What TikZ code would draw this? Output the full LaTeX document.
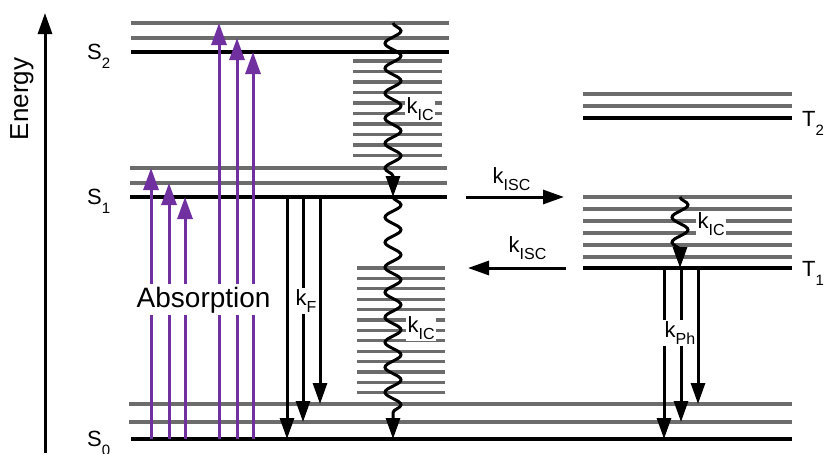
\documentclass[tikz,border=0pt]{standalone}
\usepackage{fontspec}
\setmainfont{Liberation Sans}
\definecolor{abspurple}{RGB}{112, 48, 160}
\definecolor{vibgray}{RGB}{108, 108, 108}
\usetikzlibrary{arrows.meta, positioning, calc, decorations.pathmorphing}
\newcommand{\ratesub}[1]{\raisebox{-7pt}{\fontsize{16}{18}\selectfont #1}}
\newcommand{\statesub}[1]{\raisebox{-9pt}{\fontsize{15}{17}\selectfont #1}}

\tikzset{
  groundlevel/.style={line width=3.2pt, black},
  viblevel/.style={line width=3.2pt, vibgray},
  absarrow/.style={line width=3pt, abspurple, -{Triangle[length=22pt, width=15pt]}},
  radarrow/.style={line width=3pt, black, -{Triangle[length=21pt, width=14pt]}},
  icarrow/.style={line width=3pt, black, -{Triangle[length=21pt, width=14pt]},
    decorate, decoration={snake, amplitude=8pt, segment length=25pt, post length=16pt}},
  ratelabel/.style={fill=white, inner sep=1.5pt, anchor=base west, font=\fontsize{22}{26}\selectfont},
  statelabel/.style={inner sep=0pt, anchor=base west, font=\fontsize{22}{26}\selectfont}
}

\begin{document}
\begin{tikzpicture}[x=1pt, y=-1pt]
  \useasboundingbox (0,0) rectangle (824,453);

  % energy axis
  \coordinate (ebot) at (45,453);
  \coordinate (etop) at (45,13);
  \draw[radarrow] (ebot) -- (etop);
  \node[rotate=90, font=\fontsize{26}{30}\selectfont] (energy) at (22,99) {Energy};

  % singlet levels
  \draw[groundlevel] (131,439) -- (792,439);
  \foreach \y in {422, 404} \draw[viblevel] (129,\y) -- (792,\y);
  \draw[groundlevel] (130,197) -- (447,197);
  \foreach \y in {183, 168} \draw[viblevel] (130,\y) -- (447,\y);
  \draw[groundlevel] (131,52) -- (449,52);
  \foreach \y in {38, 23} \draw[viblevel] (131,\y) -- (449,\y);

  % dense vibrational manifolds
  \foreach \i in {0,...,9} \draw[viblevel] (353,61+10.5*\i) -- (442,61+10.5*\i);
  \foreach \i in {0,...,12} \draw[viblevel] (357,268+10.4*\i) -- (445,268+10.4*\i);

  % triplet levels
  \draw[groundlevel] (583,118) -- (792,118);
  \foreach \y in {106, 94} \draw[viblevel] (583,\y) -- (792,\y);
  \draw[groundlevel] (583,268) -- (792,268);
  \foreach \y in {197, 209, 221, 233, 245, 257} \draw[viblevel] (583,\y) -- (792,\y);

  \node[statelabel] (s2lab) at (87,59) {S\statesub{2}};
  \node[statelabel] (s1lab) at (87,204) {S\statesub{1}};
  \node[statelabel] (s0lab) at (87,446) {S\statesub{0}};
  \node[statelabel] (t2lab) at (802,126) {T\statesub{2}};
  \node[statelabel] (t1lab) at (802,276) {T\statesub{1}};

  % absorption
  \foreach \x/\top [count=\i] in {151/168, 169/183, 185/197, 219/23, 237/38, 253/52} {
    \coordinate (absfrom\i) at (\x,439);
    \coordinate (absto\i) at (\x,\top);
    \draw[absarrow] (absfrom\i) -- (absto\i);
  }

  % fluorescence and phosphorescence
  \foreach \x/\bot [count=\i] in {287/439, 303/422, 320/404} {
    \coordinate (flfrom\i) at (\x,197);
    \coordinate (flto\i) at (\x,\bot);
    \draw[radarrow] (flfrom\i) -- (flto\i);
  }
  \foreach \x/\bot [count=\i] in {664/439, 681/422, 698/404} {
    \coordinate (phfrom\i) at (\x,268);
    \coordinate (phto\i) at (\x,\bot);
    \draw[radarrow] (phfrom\i) -- (phto\i);
  }

  % internal conversion
  \coordinate (icA) at (393,23);
  \coordinate (icB) at (393,197);
  \coordinate (icC) at (393,439);
  \coordinate (icD) at (680,197);
  \coordinate (icE) at (680,268);
  \draw[icarrow] (icA) -- (icB);
  \draw[icarrow] (icB) -- (icC);
  \draw[icarrow, decoration={snake, amplitude=8pt, segment length=25pt, post length=14pt}] (icD) -- (icE);

  % intersystem crossing
  \coordinate (iscA) at (466,197);
  \coordinate (iscB) at (564,197);
  \coordinate (iscC) at (566,268);
  \coordinate (iscD) at (468,268);
  \draw[radarrow] (iscA) -- (iscB);
  \draw[radarrow] (iscC) -- (iscD);

  % labels
  \node[ratelabel, inner sep=2.5pt, font=\fontsize{28}{32}\selectfont] (absorb) at (134,307) {Absorption};
  \node[ratelabel] (kf) at (294,305) {k\ratesub{F}};
  \node[ratelabel] (kph) at (663,337) {k\ratesub{Ph}};
  \node[ratelabel] (kic1) at (405,113) {k\ratesub{IC}};
  \node[ratelabel] (kic2) at (406,332) {k\ratesub{IC}};
  \node[ratelabel] (kic3) at (696,228) {k\ratesub{IC}};
  \node[ratelabel, fill=none] (kisc1) at (491,183) {k\ratesub{ISC}};
  \node[ratelabel, fill=none] (kisc2) at (507,252) {k\ratesub{ISC}};
\end{tikzpicture}
\end{document}
